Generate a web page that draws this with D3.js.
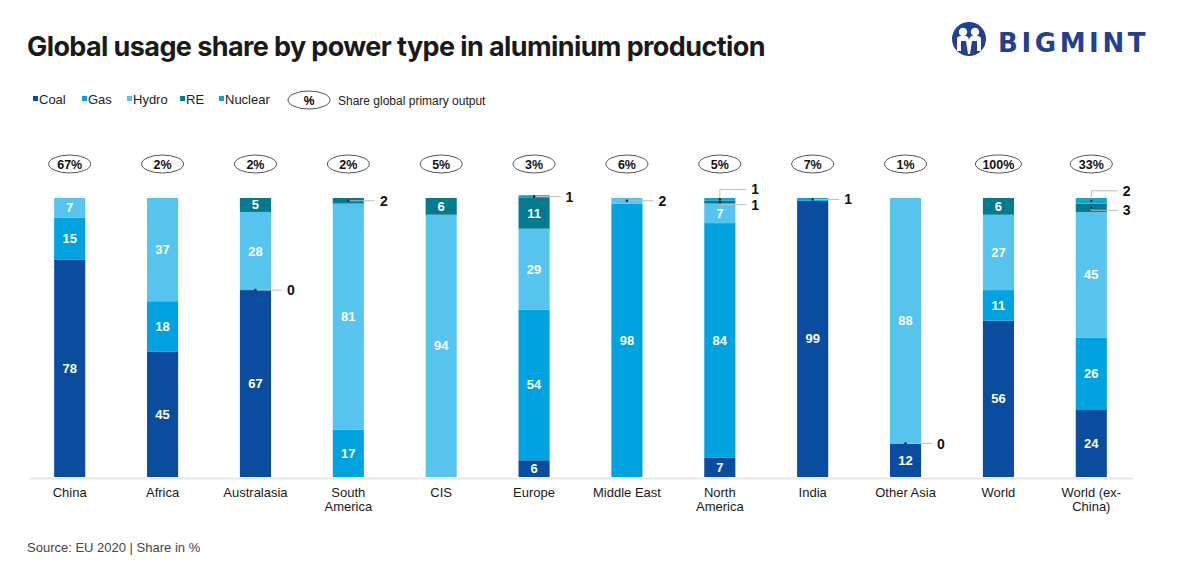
<!DOCTYPE html>
<html>
<head>
<meta charset="utf-8">
<script src="https://cdn.jsdelivr.net/npm/d3@7"></script>
<style>
  body { margin: 0; background: #fff; }
  text { font-family: "Liberation Sans", Arial, sans-serif; }
</style>
</head>
<body>
<svg id="chart" width="1185" height="587"></svg>
<script>
// categories and values (share in %), null = not shown
var regions = ['China', 'Africa', 'Australasia', 'South America', 'CIS', 'Europe',
  'Middle East', 'North America', 'India', 'Other Asia', 'World', 'World (ex-China)']
var globalShare = ['67%', '2%', '2%', '2%', '5%', '3%', '6%', '5%', '7%', '1%', '100%', '33%']

var coal    = [78, 45, 67, null, null, 6, null, 7, 99, 12, 56, 24]
var gas     = [15, 18, 0, 17, null, 54, 98, 84, 1, 0, 11, 26]
var hydro   = [7, 37, 28, 81, 94, 29, 2, 7, null, 88, 27, 45]
var re      = [null, null, 5, 2, 6, 11, null, 1, null, null, 6, 3]
var nuclear = [null, null, null, null, null, 1, null, 1, null, null, null, 2]

var seriesNames = ['Coal', 'Gas', 'Hydro', 'RE', 'Nuclear']
var colors = ['#0a4c9e', '#00a2df', '#57c4f0', '#037a8e', '#10a6c7']

var svg = d3.select('#chart')

// title
svg.append('text')
  .attr('x', 27).attr('y', 56)
  .style('font-family', 'Inter, sans-serif')
  .style('font-weight', 700)
  .style('font-size', '27px')
  .style('letter-spacing', '-0.6px')
  .attr('fill', '#1a1a1a')
  .text('Global usage share by power type in aluminium production')

// logo
var logo = svg.append('g').attr('transform', 'translate(969,39)')
logo.append('circle').attr('r', 17).attr('fill', '#24418f')
logo.append('circle').attr('cx', -6).attr('cy', -7).attr('r', 4.2).attr('fill', '#fff')
logo.append('circle').attr('cx', 6).attr('cy', -7).attr('r', 4.2).attr('fill', '#fff')
logo.append('path').attr('d', 'M-12,0 Q-12,-3 -8,-3 L-4,-3 Q0,-3 0,2 Q0,-3 4,-3 L8,-3 Q12,-3 12,0 L12,12 L8,12 L8,2 L3,2 L1,15 L-1,15 L-3,2 L-8,2 L-8,12 L-12,12 Z')
  .attr('fill', '#fff')
svg.append('text')
  .attr('x', 998).attr('y', 52)
  .style('font-family', '"DejaVu Sans", sans-serif')
  .style('font-weight', 700)
  .style('font-size', '26px')
  .style('letter-spacing', '3.6px')
  .attr('fill', '#24418f')
  .text('BIGMINT')

// legend
var legendX = [33, 82, 127, 180, 219]
var legend = svg.append('g')
seriesNames.forEach(function (n, i) {
  legend.append('rect')
    .attr('x', legendX[i]).attr('y', 96)
    .attr('width', 5).attr('height', 5)
    .attr('fill', colors[i])
  legend.append('text')
    .attr('x', legendX[i] + 6).attr('y', 104)
    .style('font-size', '13px')
    .attr('fill', '#222')
    .text(n)
})
legend.append('ellipse')
  .attr('cx', 309).attr('cy', 100).attr('rx', 21).attr('ry', 9)
  .attr('fill', '#fff').attr('stroke', '#555')
legend.append('text')
  .attr('x', 309).attr('y', 104.5)
  .attr('text-anchor', 'middle')
  .style('font-size', '12px').style('font-weight', 700)
  .text('%')
legend.append('text')
  .attr('x', 338).attr('y', 104.5)
  .style('font-size', '12px')
  .attr('fill', '#222')
  .text('Share global primary output')

// scales
var x = d3.scaleBand().domain(regions).range([23.5, 1137.5]).paddingInner(0.665).paddingOuter(0.33)
var y = d3.scaleLinear().domain([0, 100]).range([477, 198])

// stacked data
var rows = regions.map(function (r, i) {
  return { region: r, vals: [coal[i], gas[i], hydro[i], re[i], nuclear[i]] }
})

var g = svg.append('g')

// baseline
g.append('line')
  .attr('x1', 30).attr('x2', 1133)
  .attr('y1', 478.5).attr('y2', 478.5)
  .attr('stroke', '#e6e6e6').attr('stroke-width', 2)

rows.forEach(function (row, ri) {
  var x0 = x(row.region)
  var bw = x.bandwidth()
  var cx = x0 + bw / 2
  var acc = 0
  var segs = []
  row.vals.forEach(function (v, si) {
    if (v === null) return
    segs.push({ si: si, v: v, y0: acc, y1: acc + v })
    acc += v
  })
  segs.forEach(function (s) {
    if (s.v > 0) {
      g.append('rect')
        .attr('x', x0).attr('width', bw)
        .attr('y', y(s.y1)).attr('height', y(s.y0) - y(s.y1))
        .attr('fill', colors[s.si])
    }
  })
  // labels
  var small = segs.filter(function (s) { return s.v < 5 })
  segs.forEach(function (s) {
    var mid = y((s.y0 + s.y1) / 2)
    if (s.v >= 5) {
      g.append('text')
        .attr('x', cx).attr('y', mid + 4.5)
        .attr('text-anchor', 'middle')
        .style('font-size', '13px').style('font-weight', 700)
        .attr('fill', '#fff')
        .text(s.v)
    } else {
      var ly = mid
      // stacked small segments: topmost one goes up
      if (small.length > 1 && s === small[small.length - 1]) ly = mid - 10
      else if (small.length > 1) ly = mid + 2.5
      var lx = x0 + bw + 11
      g.append('path')
        .attr('d', 'M' + cx + ',' + mid + ' L' + cx + ',' + ly + ' L' + lx + ',' + ly)
        .attr('fill', 'none').attr('stroke', '#bdbdbd').attr('stroke-width', 1)
      g.append('circle').attr('cx', cx).attr('cy', mid).attr('r', 1.3).attr('fill', '#222')
      g.append('text')
        .attr('x', lx + 5).attr('y', ly + 5)
        .style('font-size', '14px').style('font-weight', 700)
        .attr('fill', '#111')
        .text(s.v)
    }
  })

  // share ellipse
  var rx = globalShare[ri].length > 3 ? 23 : 21
  g.append('ellipse')
    .attr('cx', cx).attr('cy', 164).attr('rx', rx).attr('ry', 9)
    .attr('fill', '#fff').attr('stroke', '#555')
  g.append('text')
    .attr('x', cx).attr('y', 168.5)
    .attr('text-anchor', 'middle')
    .style('font-size', '12.5px').style('font-weight', 700)
    .attr('fill', '#111')
    .text(globalShare[ri])
})

// category axis labels
var axis = d3.axisBottom(x).tickSize(0).tickPadding(0)
var ax = svg.append('g').attr('transform', 'translate(0,480)').call(axis)
ax.select('.domain').remove()
ax.selectAll('.tick text').remove()
var wrapMap = {
  'South America': ['South', 'America'],
  'North America': ['North', 'America'],
  'World (ex-China)': ['World (ex-', 'China)']
}
ax.selectAll('.tick').each(function (d) {
  var lines = wrapMap[d] || [d]
  var t = d3.select(this).append('text')
    .attr('text-anchor', 'middle')
    .attr('fill', '#1a1a1a')
    .style('font-size', '13px')
  lines.forEach(function (l, i) {
    t.append('tspan').attr('x', 0).attr('y', 17 + i * 14).text(l)
  })
})

// source
svg.append('text')
  .attr('x', 27).attr('y', 552)
  .style('font-size', '13px')
  .attr('fill', '#444')
  .text('Source: EU 2020 | Share in %')
</script>
</body>
</html>
